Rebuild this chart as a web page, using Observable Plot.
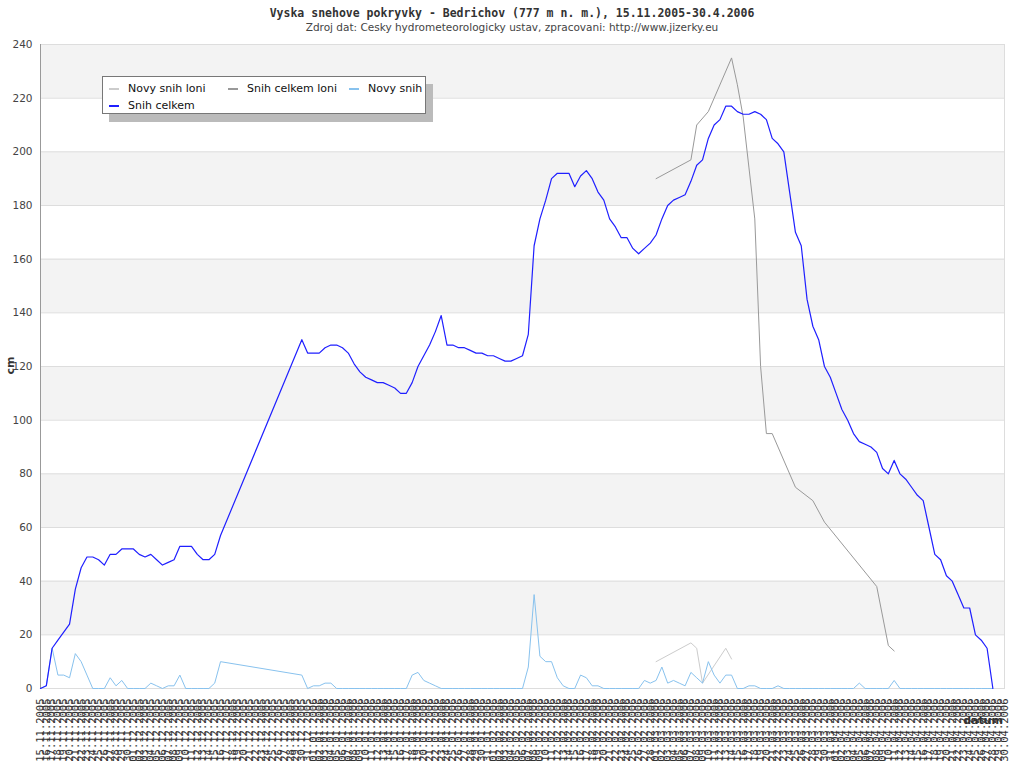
<!DOCTYPE html>
<html>
<head>
<meta charset="utf-8">
<script src="https://cdn.jsdelivr.net/npm/d3@7"></script>
<script src="https://cdn.jsdelivr.net/npm/@observablehq/plot@0.6"></script>
<style>
  body { margin: 0; background: #fff; }
  #wrap { position: relative; width: 1024px; height: 768px; background: #fff; overflow: hidden; }
  #title { height: 36px; text-align: center; }
  #title .t1 { font: bold 11.5px "DejaVu Sans Mono", monospace; color: #333; padding-top: 6px; line-height: 14px; }
  #title .t2 { font: 10.5px "DejaVu Sans", sans-serif; color: #444; line-height: 15px; }
  #legend { position: absolute; left: 102px; top: 76px; width: 322px; height: 36px; background: #fff;
            border: 1px solid #777; box-shadow: 7px 8px 0 #bbb; font: 11px "DejaVu Sans", sans-serif; color: #111; }
  #legend .it { position: absolute; white-space: nowrap; }
  #legend .sw { display: inline-block; width: 10px; height: 2px; vertical-align: middle; margin-right: 9px; }
  .osa { position: absolute; font: bold 11px "DejaVu Sans", sans-serif; color: #333; white-space: nowrap; }
  #ylab { left: 2px; top: 359px; transform: rotate(-90deg); }
  #xlab { right: 21px; top: 714px; }
</style>
</head>
<body>
<div id="wrap">
  <div id="title">
    <div class="t1">Vyska snehove pokryvky - Bedrichov (777 m n. m.), 15.11.2005-30.4.2006</div>
    <div class="t2">Zdroj dat: Cesky hydrometeorologicky ustav, zpracovani: http://www.jizerky.eu</div>
  </div>
  <div id="chart"></div>
  <div id="legend"></div>
  <div class="osa" id="ylab">cm</div>
  <div class="osa" id="xlab">datum</div>
</div>
<script>
// dny od 15.11.2005 do 30.4.2006
const dny = d3.utcDay.range(new Date(Date.UTC(2005, 10, 15)), new Date(Date.UTC(2006, 4, 1)));

// snih celkem (cm) od 15.11.2005, null = chybi
const snihCelkem = [
  0, 1, 15, 18, 21, 24, 37, 45, 49, 49,
  48, 46, 50, 50, 52, 52, 52, 50, 49, 50,
  48, 46, 47, 48, 53, 53, 53, 50, 48, 48,
  50, 57, null, null, null, null, null, null, null, null,
  null, null, null, null, null, 130, 125, 125, 125, 127,
  128, 128, 127, 125, 121, 118, 116, 115, 114, 114,
  113, 112, 110, 110, 114, 120, 124, 128, 133, 139,
  128, 128, 127, 127, 126, 125, 125, 124, 124, 123,
  122, 122, 123, 124, 132, 165, 175, 182, 190, 192,
  192, 192, 187, 191, 193, 190, 185, 182, 175, 172,
  168, 168, 164, 162, 164, 166, 169, 175, 180, 182,
  183, 184, 189, 195, 197, 205, 210, 212, 217, 217,
  215, 214, 214, 215, 214, 212, 205, 203, 200, 185,
  170, 165, 145, 135, 130, 120, 116, 110, 104, 100,
  95, 92, 91, 90, 88, 82, 80, 85, 80, 78,
  75, 72, 70, 60, 50, 48, 42, 40, 35, 30,
  30, 20, 18, 15, 0
];

// novy snih (cm) od 15.11.2005
const novySnih = [
  0, 1, 15, 5, 5, 4, 13, 10, 5, 0,
  0, 0, 4, 1, 3, 0, 0, 0, 0, 2,
  1, 0, 1, 1, 5, 0, 0, 0, 0, 0,
  2, 10, null, null, null, null, null, null, null, null,
  null, null, null, null, null, 5, 0, 1, 1, 2,
  2, 0, 0, 0, 0, 0, 0, 0, 0, 0,
  0, 0, 0, 0, 5, 6, 3, 2, 1, 0,
  0, 0, 0, 0, 0, 0, 0, 0, 0, 0,
  0, 0, 0, 0, 8, 35, 12, 10, 10, 4,
  1, 0, 0, 5, 4, 1, 1, 0, 0, 0,
  0, 0, 0, 0, 3, 2, 3, 8, 2, 3,
  2, 1, 6, 4, 2, 10, 5, 2, 5, 5,
  0, 0, 1, 1, 0, 0, 0, 1, 0, 0,
  0, 0, 0, 0, 0, 0, 0, 0, 0, 0,
  0, 2, 0, 0, 0, 0, 0, 3, 0, 0,
  0, 0, 0, 0, 0, 0, 0, 0, 0, 0,
  0, 0, 0, 0, 0
];

// loni - hodnoty od 1.3. (106. den)
const loniOd = 106;
const snihCelkemLoni = [
  190, null, null, null, null, null, 197, 210, null, 215,
  null, null, null, 235, 225, 213, 194, 175, 120, 95,
  95, null, null, null, 75, null, null, 70, null, 62,
  null, null, null, null, null, null, null, null, 38, null,
  16, 14
];
const novySnihLoni = [
  10, null, null, null, null, null, 17, 15, 2, null,
  null, null, 15, 11
];

const yTicks = [0, 20, 40, 60, 80, 100, 120, 140, 160, 180, 200, 220, 240];
const pasy = [20, 60, 100, 140, 180, 220];

const rada = (hodnoty, od) => hodnoty
  .map((v, i) => ({date: dny[i + od], v: v}))
  .filter(d => d.v != null);

const serie = [
  {name: "Novy snih loni", color: "#cccccc", data: rada(novySnihLoni, loniOd), w: 1},
  {name: "Snih celkem loni", color: "#999999", data: rada(snihCelkemLoni, loniOd), w: 1},
  {name: "Novy snih", color: "#88c2ee", data: rada(novySnih, 0), w: 1},
  {name: "Snih celkem", color: "#1f1fff", data: rada(snihCelkem, 0), w: 1.2},
];

const fmt = d3.utcFormat("%d.%m.%Y");

let chart = Plot.plot({
  width: 1024,
  height: 732,
  marginTop: 8,
  marginBottom: 80,
  marginLeft: 40,
  marginRight: 20,
  style: {fontFamily: "DejaVu Sans", fontSize: "10.5px", color: "#444", background: "#fff"},
  x: {type: "utc", domain: [dny[0], dny[dny.length - 1]]},
  y: {domain: [0, 240]},
  marks: [
    Plot.rect(pasy, {
      x1: () => dny[0],
      x2: () => dny[dny.length - 1],
      y1: d => d,
      y2: d => d + 20,
      fill: "#f3f3f3",
    }),
    Plot.gridY(yTicks, {stroke: "#dddddd", strokeOpacity: 1}),
    Plot.frame({stroke: "#dddddd"}),
    Plot.ruleX([dny[0]], {stroke: "#999"}),
    Plot.axisY({
      ticks: yTicks,
      tickSize: 0,
      tickPadding: 8,
      label: null,
    }),
    Plot.axisX({
      ticks: dny,
      tickFormat: fmt,
      tickSize: 0,
      tickPadding: 10,
      tickRotate: -90,
      fontFamily: "DejaVu Sans Mono",
      fontSize: 10.5,
      fill: "#333",
      label: null,
    }),
    ...serie.map(s => Plot.lineY(s.data, {
      x: "date",
      y: "v",
      stroke: s.color,
      strokeWidth: s.w,
    })),
  ]
});

d3.select('#chart').append(() => chart);

// legenda
const pozice = [[6, 5], [125, 5], [246, 5], [6, 22]];
d3.select('#legend').selectAll('.it')
  .data(serie)
  .join('div')
  .attr('class', 'it')
  .style('left', (d, i) => pozice[i][0] + 'px')
  .style('top', (d, i) => pozice[i][1] + 'px')
  .html(d => `<span class="sw" style="background:${d.color}"></span>${d.name}`);
</script>
</body>
</html>
